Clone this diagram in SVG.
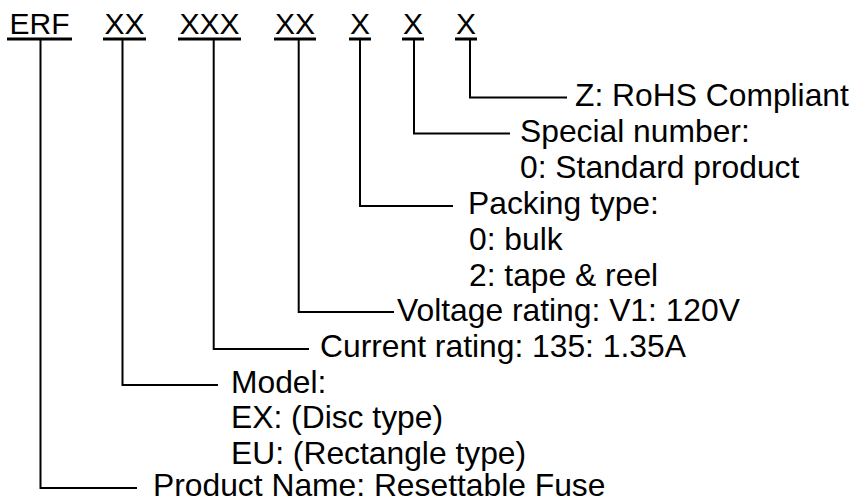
<svg xmlns="http://www.w3.org/2000/svg" width="855" height="503" viewBox="0 0 855 503">
<style>
.code{font-family:"Liberation Sans",Arial,sans-serif;font-size:30px;fill:#000;text-anchor:middle}
.ul{stroke:#000;stroke-width:3}
.lbl{font-family:"Liberation Sans",Arial,sans-serif;font-size:31.8px;fill:#000}
.conn{fill:none;stroke:#000;stroke-width:2}
</style>
<rect width="855" height="503" fill="#fff"/>
<g id="connectors">
<path class="conn" d="M40.5 40 V488 H137"/>
<path class="conn" d="M122.5 40 V385 H218"/>
<path class="conn" d="M213.7 40 V349 H309"/>
<path class="conn" d="M298.7 40 V312 H394"/>
<path class="conn" d="M360 40 V206 H453"/>
<path class="conn" d="M414 40 V133.5 H510"/>
<path class="conn" d="M470 40 V97.5 H567"/>
</g>
<g id="code-erf"><text class="code" x="39.5" y="33.5">ERF</text><line class="ul" x1="7" y1="39" x2="72" y2="39"/></g>
<g id="code-model"><text class="code" x="124.5" y="33.5">XX</text><line class="ul" x1="103" y1="39" x2="146" y2="39"/></g>
<g id="code-current"><text class="code" x="209.5" y="33.5">XXX</text><line class="ul" x1="178" y1="39" x2="241" y2="39"/></g>
<g id="code-voltage"><text class="code" x="295" y="33.5">XX</text><line class="ul" x1="274" y1="39" x2="316" y2="39"/></g>
<g id="code-packing"><text class="code" x="360" y="33.5">X</text><line class="ul" x1="349" y1="39" x2="371" y2="39"/></g>
<g id="code-special"><text class="code" x="413" y="33.5">X</text><line class="ul" x1="402" y1="39" x2="424" y2="39"/></g>
<g id="code-rohs"><text class="code" x="466" y="33.5">X</text><line class="ul" x1="455" y1="39" x2="477" y2="39"/></g>
<g id="desc-rohs"><text class="lbl" x="575" y="105.5">Z: RoHS Compliant</text></g>
<g id="desc-special"><text class="lbl" x="520" y="141.5">Special number:</text><text class="lbl" x="520" y="177.5">0: Standard product</text></g>
<g id="desc-packing"><text class="lbl" x="468" y="213.5">Packing type:</text><text class="lbl" x="469" y="249.5">0: bulk</text><text class="lbl" x="469" y="285.5">2: tape &amp; reel</text></g>
<g id="desc-voltage"><text class="lbl" x="397" y="321">Voltage rating: V1: 120V</text></g>
<g id="desc-current"><text class="lbl" x="320" y="357">Current rating: 135: 1.35A</text></g>
<g id="desc-model"><text class="lbl" x="231" y="392.5">Model:</text><text class="lbl" x="231" y="428">EX: (Disc type)</text><text class="lbl" x="231" y="463.5">EU: (Rectangle type)</text></g>
<g id="desc-product"><text class="lbl" x="153" y="496">Product Name: Resettable Fuse</text></g>
</svg>
